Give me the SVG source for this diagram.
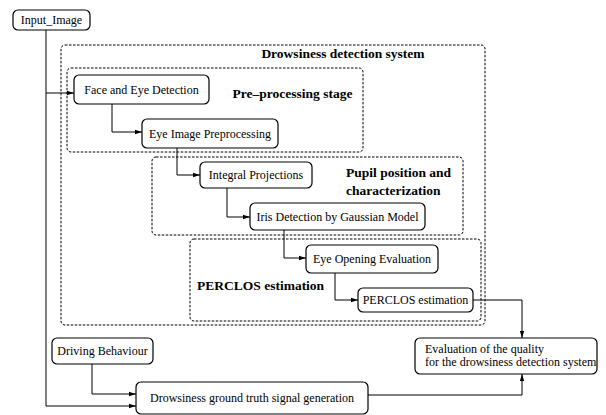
<svg xmlns="http://www.w3.org/2000/svg" width="606" height="415" viewBox="0 0 606 415">
<defs>
<marker id="ah" markerWidth="7" markerHeight="6" refX="7" refY="3" orient="auto" markerUnits="userSpaceOnUse">
<path d="M0,0.8 L7,3 L0,5.2 Z" fill="#000"/>
</marker>
<style>
.node{fill:#fff;stroke:#000;stroke-width:1.2}
.grp{fill:none;stroke:#000;stroke-width:1;stroke-dasharray:2.5,1.5}
.t{font-family:"Liberation Serif","Times New Roman",serif;font-size:12px;fill:#000}
.b{font-family:"Liberation Serif","Times New Roman",serif;font-size:13.5px;font-weight:bold;fill:#000}
.c{fill:none;stroke:#000;stroke-width:1}
</style>
</defs>
<rect width="606" height="415" fill="#fff"/>
<g id="groups">
<rect id="sys" class="grp" x="61" y="45" width="424" height="280" rx="4"/>
<rect id="pre" class="grp" x="67" y="68" width="296" height="84" rx="4"/>
<rect id="pupil" class="grp" x="152" y="157" width="311" height="78" rx="4"/>
<rect id="perclosgrp" class="grp" x="190" y="239" width="291" height="82" rx="4"/>
<text class="b" x="343" y="58" text-anchor="middle">Drowsiness detection system</text>
<text class="b" x="292.5" y="98" text-anchor="middle">Pre–processing stage</text>
<text class="b" x="346" y="177">Pupil position and</text>
<text class="b" x="346" y="195">characterization</text>
<text class="b" x="197" y="290">PERCLOS estimation</text>
</g>
<g id="connectors">
<polyline class="c" points="46,30 46,406 136,406" marker-end="url(#ah)"/>
<polyline class="c" points="46,93 74,93" marker-end="url(#ah)"/>
<polyline class="c" points="112,104 112,132 142,132" marker-end="url(#ah)"/>
<polyline class="c" points="177,148 177,175 200,175" marker-end="url(#ah)"/>
<polyline class="c" points="227,188 227,217 250,217" marker-end="url(#ah)"/>
<polyline class="c" points="284,230 284,258 306,258" marker-end="url(#ah)"/>
<polyline class="c" points="335,273 335,300 358,300" marker-end="url(#ah)"/>
<polyline class="c" points="473,300 522,300 522,338" marker-end="url(#ah)"/>
<polyline class="c" points="92,364 92,394 136,394" marker-end="url(#ah)"/>
<polyline class="c" points="368,395 522,395 522,374" marker-end="url(#ah)"/>
</g>
<g id="input">
<rect class="node" x="13" y="10" width="77" height="20" rx="5"/>
<text class="t" x="51.5" y="24" text-anchor="middle">Input_Image</text>
</g>
<g id="face">
<rect class="node" x="74" y="75" width="135" height="29" rx="5"/>
<text class="t" x="141.5" y="93.5" text-anchor="middle">Face and Eye Detection</text>
</g>
<g id="eyeimg">
<rect class="node" x="142" y="119" width="136" height="29" rx="5"/>
<text class="t" x="210" y="137.5" text-anchor="middle">Eye Image Preprocessing</text>
</g>
<g id="integral">
<rect class="node" x="200" y="162" width="112" height="26" rx="5"/>
<text class="t" x="256" y="179" text-anchor="middle">Integral Projections</text>
</g>
<g id="iris">
<rect class="node" x="250" y="203" width="175" height="27" rx="5"/>
<text class="t" x="337.5" y="220.5" text-anchor="middle">Iris Detection by Gaussian Model</text>
</g>
<g id="eyeopen">
<rect class="node" x="306" y="245" width="132" height="28" rx="5"/>
<text class="t" x="372" y="263" text-anchor="middle">Eye Opening Evaluation</text>
</g>
<g id="perclos">
<rect class="node" x="358" y="288" width="115" height="24" rx="5"/>
<text class="t" x="415.5" y="304" text-anchor="middle">PERCLOS estimation</text>
</g>
<g id="driving">
<rect class="node" x="52" y="338" width="101" height="26" rx="5"/>
<text class="t" x="102.5" y="355" text-anchor="middle">Driving Behaviour</text>
</g>
<g id="groundtruth">
<rect class="node" x="136" y="382" width="232" height="32" rx="5"/>
<text class="t" x="252" y="402" text-anchor="middle">Drowsiness ground truth signal generation</text>
</g>
<g id="eval">
<rect class="node" x="415" y="338" width="182" height="36" rx="5"/>
<text class="t" x="425" y="353">Evaluation of the quality</text>
<text class="t" x="425" y="366">for the drowsiness detection system</text>
</g>
</svg>
